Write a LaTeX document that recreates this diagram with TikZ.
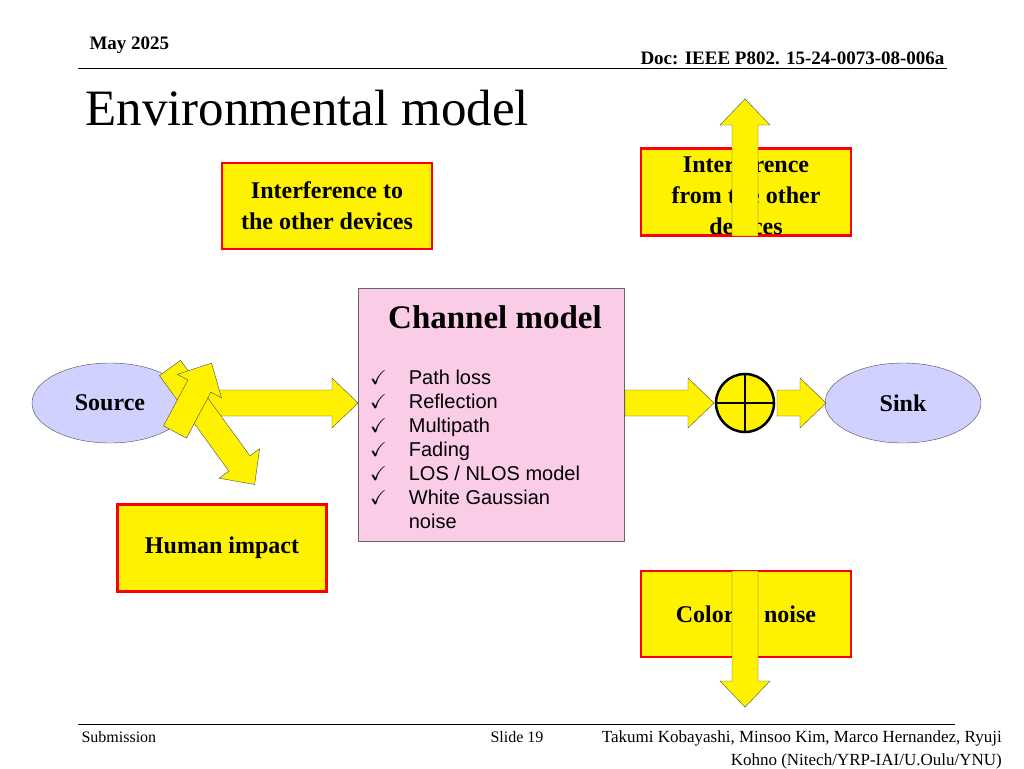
\documentclass[tikz,border=0pt]{standalone}
\usepackage{fontspec}
\usepackage{amssymb}
\setmainfont{Liberation Serif}
\newfontfamily\sans{Liberation Sans}
\usetikzlibrary{shapes.geometric}
\newcommand\blockarrow[4]{%
  \draw[black!70,fill=yellow,shift={(#1,#2)},rotate=#3]
   (0,-13) -- (#4-26,-13) -- (#4-26,-25) -- (#4,0) -- (#4-26,25) -- (#4-26,13) -- (0,13) -- cycle;}
\begin{document}
\begin{tikzpicture}[x=1pt,y=-1pt,
  ybox/.style={draw=red,line width=2.5pt,fill=yellow,align=center,font=\bfseries\fontsize{24}{31}\selectfont,inner sep=0pt},
  ell/.style={ellipse,draw=black!70,fill=blue!18,minimum width=156pt,minimum height=80pt,font=\bfseries\fontsize{24}{28}\selectfont},
  ]
\useasboundingbox (0,0) rectangle (1024,768);
\node[anchor=west,font=\bfseries\fontsize{19}{22}\selectfont] (may) at (86,45) {May 2025};
\node[anchor=east,font=\bfseries\fontsize{19}{22}\selectfont] (doc) at (948,58) {Doc: IEEE P802. 15-24-0073-08-006a};
\draw (78,68) -- (947,68);
\node[anchor=west,font=\fontsize{51}{56}\selectfont] (title) at (82,108) {Environmental model};
% boxes
\node[ybox,minimum width=210pt,minimum height=86pt] (itod) at (327,206) {Interference to\\the other devices};
\node[ybox,minimum width=210pt,minimum height=87pt] (ifrom) at (746,192) {};
\node[font=\bfseries\fontsize{24}{31}\selectfont,align=center] (ifromt) at (746,195) {Interference\\from the other\\devices};
\node[ybox,minimum width=209pt,minimum height=87pt] (hum) at (222,548) {Human impact};
\node[ybox,minimum width=210pt,minimum height=86pt] (col) at (746,614) {Colored noise};
% channel model
\node[draw=black!60,fill=magenta!20,minimum width=266pt,minimum height=253pt] (ch) at (491,415) {};
\node[font=\bfseries\fontsize{33}{38}\selectfont] (cht) at (495,317) {Channel model};
\node[anchor=north west,align=left,font=\sans\fontsize{20}{24}\selectfont,inner sep=0pt] (list) at (370,370)
 {\checkmark\hspace{22pt}Path loss\\ \checkmark\hspace{22pt}Reflection\\ \checkmark\hspace{22pt}Multipath\\ \checkmark\hspace{22pt}Fading\\ \checkmark\hspace{22pt}LOS / NLOS model\\ \checkmark\hspace{22pt}White Gaussian\\ \phantom{\checkmark}\hspace{22pt}noise};
% ellipses
\node[ell] (src) at (110,403) {Source};
\node[ell] (sink) at (903,403) {Sink};
% sum
\node[circle,draw,line width=2.5pt,fill=yellow,minimum size=58pt,inner sep=0pt] (sum) at (745,403) {};
\draw[line width=2.5pt] (sum.north) -- (sum.south) (sum.west) -- (sum.east);
% arrows
\blockarrow{190}{403}{0}{168}
\blockarrow{625}{403}{0}{89}
\blockarrow{777}{403}{0}{49}
\blockarrow{745}{236}{90}{137}
\blockarrow{745}{571}{-90}{136}
\blockarrow{170}{368}{-54}{144}
\blockarrow{175}{432}{62}{78}
% footer
\draw (78,724) -- (955,724);
\node[anchor=west,font=\fontsize{16}{18}\selectfont] (sub) at (78,737) {Submission};
\node[anchor=west,font=\fontsize{16}{18}\selectfont] (sl) at (487,737) {Slide 19};
\node[anchor=north east,align=right,font=\fontsize{17}{23}\selectfont,inner sep=0pt] (au) at (1002,730) {Takumi Kobayashi, Minsoo Kim, Marco Hernandez, Ryuji\\Kohno (Nitech/YRP-IAI/U.Oulu/YNU)};
\end{tikzpicture}
\end{document}
